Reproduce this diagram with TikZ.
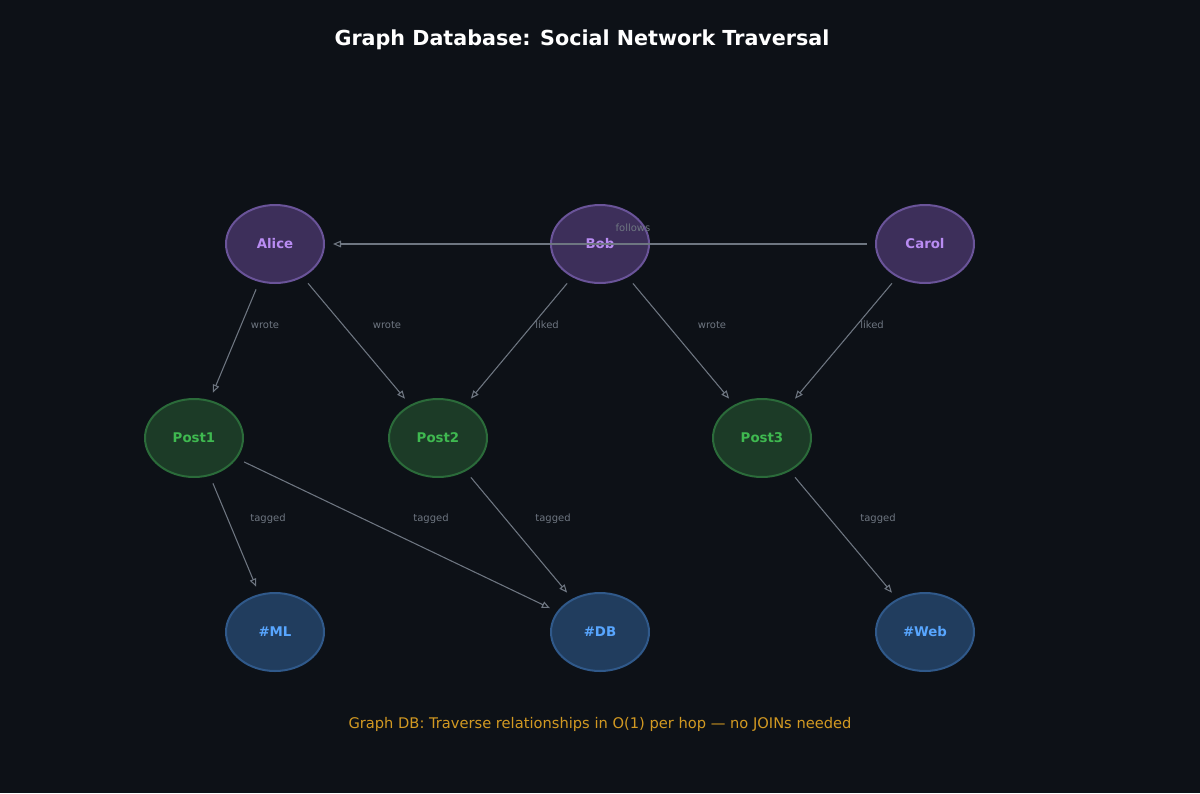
\documentclass[tikz,border=0pt]{standalone}
\usepackage{fontspec}
\setmainfont{DejaVu Sans}
\usetikzlibrary{shapes.geometric,arrows.meta}
\definecolor{bg}{HTML}{0D1117}
\definecolor{pfill}{HTML}{3D2F5A}\definecolor{pdraw}{HTML}{6A5499}\definecolor{ptext}{HTML}{B98CF2}
\definecolor{sfill}{HTML}{1C3B27}\definecolor{sdraw}{HTML}{2B6B3A}\definecolor{stext}{HTML}{3FB950}
\definecolor{tfill}{HTML}{213D5E}\definecolor{tdraw}{HTML}{30598A}\definecolor{ttext}{HTML}{58A6FF}
\definecolor{edge}{HTML}{6E7681}\definecolor{foot}{HTML}{D29922}
\begin{document}
\begin{tikzpicture}[x=0.75pt,y=-0.75pt,
 base/.style={ellipse,minimum width=73.5pt,minimum height=58.5pt,line width=1.5pt,font=\bfseries\fontsize{10}{12}\selectfont,inner sep=0pt},
 person/.style={base,fill=pfill,draw=pdraw,text=ptext},
 post/.style={base,fill=sfill,draw=sdraw,text=stext},
 tag/.style={base,fill=tfill,draw=tdraw,text=ttext},
 e/.style={draw=edge,line width=0.8pt,-{Stealth[length=6pt,width=5pt,inset=0pt,open]},shorten <=6pt,shorten >=6pt},
 lab/.style={text=edge,font=\fontsize{7.5}{9}\selectfont}]
\fill[bg] (0,0) rectangle (1200,793);
\node[text=white,font=\bfseries\fontsize{15.5}{18}\selectfont] (title) at (582,40) {Graph Database: Social Network Traversal};
\node[person] (alice) at (275,244) {Alice};
\node[person] (bob) at (600,244) {Bob};
\node[person] (carol) at (925,244) {Carol};
\node[post] (p1) at (194,438) {Post1};
\node[post] (p2) at (438,438) {Post2};
\node[post] (p3) at (762,438) {Post3};
\node[tag] (ml) at (275,632) {\#ML};
\node[tag] (db) at (600,632) {\#DB};
\node[tag] (web) at (925,632) {\#Web};
\draw[e] (carol) -- (alice);
\node[lab] (lf) at (633,228) {follows};
\draw[e] (alice) -- (p1); \node[lab] (l1) at (265,325) {wrote};
\draw[e] (alice) -- (p2); \node[lab] (l2) at (387,325) {wrote};
\draw[e] (bob) -- (p2); \node[lab] (l3) at (547,325) {liked};
\draw[e] (bob) -- (p3); \node[lab] (l4) at (712,325) {wrote};
\draw[e] (carol) -- (p3); \node[lab] (l5) at (872,325) {liked};
\draw[e] (p1) -- (ml); \node[lab] (l6) at (268,519) {tagged};
\draw[e] (p1) -- (db); \node[lab] (l7) at (431,519) {tagged};
\draw[e] (p2) -- (db); \node[lab] (l8) at (553,519) {tagged};
\draw[e] (p3) -- (web); \node[lab] (l9) at (878,519) {tagged};
\node[text=foot,font=\fontsize{11}{13}\selectfont] (footer) at (600,724) {Graph DB: Traverse relationships in O(1) per hop — no JOINs needed};
\end{tikzpicture}
\end{document}
